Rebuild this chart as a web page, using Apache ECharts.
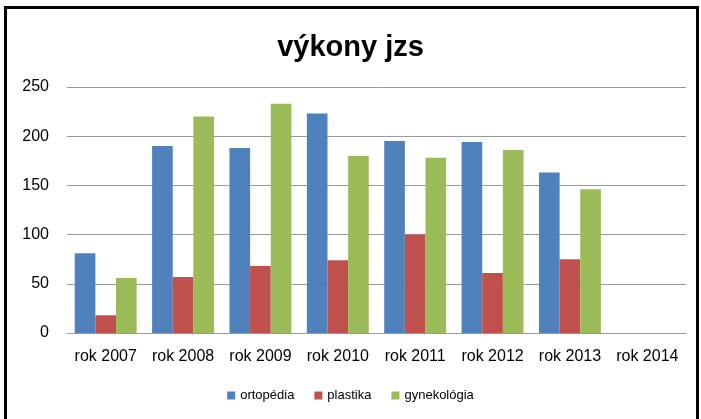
<!DOCTYPE html>
<html>
<head>
<meta charset="utf-8">
<script src="https://cdn.jsdelivr.net/npm/echarts@6/dist/echarts.min.js"></script>
<style>
  html, body { margin: 0; padding: 0; background: #fff; }
  #frame { position: absolute; left: 4px; top: 6px; width: 689px; height: 420px; border: 3px solid #000; border-bottom: none; }
  #chart { position: absolute; left: 0; top: 0; width: 701px; height: 419px; }
</style>
</head>
<body>
<div id="frame"></div>
<div id="chart"></div>
<script>
var years = ['rok 2007', 'rok 2008', 'rok 2009', 'rok 2010', 'rok 2011', 'rok 2012', 'rok 2013', 'rok 2014'];
var ortopedia = [81, 190, 188, 223, 195, 194, 163, null];
var plastika = [18, 57, 68, 74, 100, 61, 75, null];
var gynekologia = [56, 220, 233, 180, 178, 186, 146, null];

var font = 'Liberation Sans';
var myChart = echarts.init(document.getElementById('chart'), null, { renderer: 'canvas' });

function bar(name, data, color) {
  return {
    name: name,
    type: 'bar',
    data: data,
    barGap: '0%',
    barCategoryGap: '20%',
    itemStyle: { color: color },
    animation: false
  };
}

var option = {
  animation: false,
  title: {
    text: 'výkony jzs',
    left: 'center',
    top: 28,
    textStyle: { fontFamily: font, fontSize: 29, fontWeight: 'bold', color: '#000' }
  },
  legend: {
    bottom: 12,
    left: 'center',
    itemWidth: 8,
    itemHeight: 8,
    itemGap: 20,
    icon: 'rect',
    textStyle: { fontFamily: font, fontSize: 13, color: '#000' },
    data: ['ortopédia', 'plastika', 'gynekológia']
  },
  grid: { left: 67, right: 15, top: 87, bottom: 86 },
  xAxis: {
    type: 'category',
    data: years,
    axisTick: { show: false },
    axisLine: { lineStyle: { color: '#9a9a9a', width: 1 } },
    axisLabel: { fontFamily: font, fontSize: 16, color: '#000', margin: 16, interval: 0 }
  },
  yAxis: {
    type: 'value',
    min: 0,
    max: 250,
    interval: 50,
    axisLine: { show: false },
    axisTick: { show: false },
    splitLine: { lineStyle: { color: '#9a9a9a', width: 1 } },
    axisLabel: { fontFamily: font, fontSize: 16, color: '#000', margin: 18 }
  },
  series: [
    bar('ortopédia', ortopedia, '#4F81BD'),
    bar('plastika', plastika, '#C0504D'),
    bar('gynekológia', gynekologia, '#9BBB59')
  ]
};

myChart.setOption(option);
</script>
</body>
</html>
